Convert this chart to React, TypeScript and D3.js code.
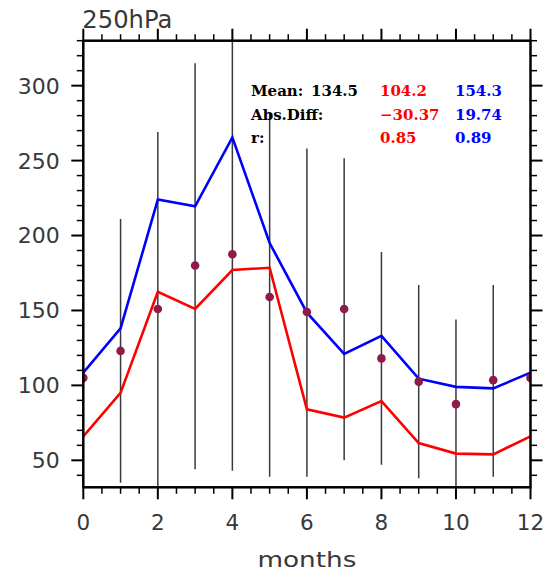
import React from "react";
import * as d3 from "d3";

// monthly cycle, month 12 closes back on month 0
const months = [0, 1, 2, 3, 4, 5, 6, 7, 8, 9, 10, 11, 12];
const observed = [105, 123, 151, 180, 187.5, 159, 149, 151, 118, 102.5, 87.5, 103.5, 105];
const redModel = [66, 95, 162.5, 151, 177, 178.5, 84, 78.5, 89.5, 61.5, 54.5, 54, 66];
const blueModel = [108.5, 138, 224, 219.5, 265.5, 195, 148.5, 121, 133, 104.5, 99, 98, 108.5];
// spread of the observations (vertical bars)
const rangeLow = [null, 35, 30, 44, 43, 39, 39, 50, 47, 38, 30, 39, null];
const rangeHigh = [null, 211, 269, 315, 335, 281.5, 258, 251.5, 189, 167, 144, 167, null];

const xMajor = [0, 2, 4, 6, 8, 10, 12];
const yMajor = [50, 100, 150, 200, 250, 300];

const statLabels = ["Mean:", "Abs.Diff:", "r:"];
const obsStats = ["134.5", "", ""];
const redStats = ["104.2", "\u221230.37", "0.85"];
const blueStats = ["154.3", "19.74", "0.89"];

const W = 552;
const H = 573;
const margin = { top: 40.7, right: 21.5, bottom: 85.7, left: 83.3 };
const innerW = W - margin.left - margin.right;
const innerH = H - margin.top - margin.bottom;

const App = () => {
    const x = d3.scaleLinear().domain([0, 12]).range([0, innerW]);
    const y = d3.scaleLinear().domain([32, 330]).range([innerH, 0]);

    const xMinor = d3.range(0, 12.01, 0.5).filter(v => !xMajor.includes(v));
    const yMinor = d3.range(40, 331, 10).filter(v => !yMajor.includes(v));

    const line = d3.line<number>()
        .x((d, i) => x(months[i]))
        .y(d => y(d));

    const axisFont = "'DejaVu Sans', sans-serif";
    const statFont = "'DejaVu Serif', serif";
    const textColour = "#383838";

    return (
        <div style={{ position: "absolute", left: 0, top: 0 }}>
            <svg width={W} height={H} style={{ display: "block", background: "white" }}>
                <defs>
                    <clipPath id="plot-clip">
                        <rect x={0} y={0} width={innerW} height={innerH} />
                    </clipPath>
                </defs>
                <text x={margin.left - 1} y={28} fontFamily={axisFont} fontSize={24} fill={textColour}
                    textLength={90} lengthAdjust="spacingAndGlyphs">250hPa</text>
                <g transform={`translate(${margin.left},${margin.top})`}>
                    <g clipPath="url(#plot-clip)">
                        {months.map((m, i) => rangeLow[i] == null ? null : (
                            <line key={"r" + m} x1={x(m)} x2={x(m)} y1={y(rangeLow[i] as number)} y2={y(rangeHigh[i] as number)}
                                stroke="#3a3a3a" strokeWidth={1.5} />
                        ))}
                        <path d={line(blueModel) || ""} fill="none" stroke="#0000ff" strokeWidth={2.6} />
                        <path d={line(redModel) || ""} fill="none" stroke="#ff0000" strokeWidth={2.6} />
                        {observed.map((v, i) => (
                            <circle key={"o" + i} cx={x(months[i])} cy={y(v)} r={4.3} fill="#8e1b4b" />
                        ))}
                    </g>

                    <rect x={0} y={0} width={innerW} height={innerH} fill="none" stroke="black" strokeWidth={2.5} />

                    {/* ticks, outward on all four sides */}
                    {xMajor.map(v => (
                        <g key={"xM" + v}>
                            <line x1={x(v)} x2={x(v)} y1={innerH} y2={innerH + 12} stroke="black" strokeWidth={2} />
                            <line x1={x(v)} x2={x(v)} y1={0} y2={-12} stroke="black" strokeWidth={2} />
                            <text x={x(v)} y={innerH + 43} textAnchor="middle" fontFamily={axisFont} fontSize={21.5} fill={textColour}>{v}</text>
                        </g>
                    ))}
                    {xMinor.map(v => (
                        <g key={"xm" + v}>
                            <line x1={x(v)} x2={x(v)} y1={innerH} y2={innerH + 6.5} stroke="black" strokeWidth={1.5} />
                            <line x1={x(v)} x2={x(v)} y1={0} y2={-6.5} stroke="black" strokeWidth={1.5} />
                        </g>
                    ))}
                    {yMajor.map(v => (
                        <g key={"yM" + v}>
                            <line x1={0} x2={-12} y1={y(v)} y2={y(v)} stroke="black" strokeWidth={2} />
                            <line x1={innerW} x2={innerW + 12} y1={y(v)} y2={y(v)} stroke="black" strokeWidth={2} />
                            <text x={-23.5} y={y(v)} dy="0.36em" textAnchor="end" fontFamily={axisFont} fontSize={22} fill={textColour}>{v}</text>
                        </g>
                    ))}
                    {yMinor.map(v => (
                        <g key={"ym" + v}>
                            <line x1={0} x2={-6.5} y1={y(v)} y2={y(v)} stroke="black" strokeWidth={1.5} />
                            <line x1={innerW} x2={innerW + 6.5} y1={y(v)} y2={y(v)} stroke="black" strokeWidth={1.5} />
                        </g>
                    ))}

                    <text x={innerW / 2} y={innerH + 80} textAnchor="middle" fontFamily={axisFont} fontSize={21}
                        textLength={99} lengthAdjust="spacingAndGlyphs" fill={textColour}>months</text>
                </g>

                {/* statistics block */}
                <g fontFamily={statFont} fontWeight="bold" fontSize={15}>
                    {statLabels.map((s, i) => (
                        <g key={"s" + i}>
                            <text x={251} y={96 + i * 23.5} fill="black">{s}</text>
                            {obsStats[i] && <text x={358} y={96 + i * 23.5} textAnchor="end" fill="black">{obsStats[i]}</text>}
                            <text x={380} y={96 + i * 23.5} fill="#ff0000">{redStats[i]}</text>
                            <text x={455} y={96 + i * 23.5} fill="#0000ff">{blueStats[i]}</text>
                        </g>
                    ))}
                </g>
            </svg>
        </div>
    );
};

export default App;
